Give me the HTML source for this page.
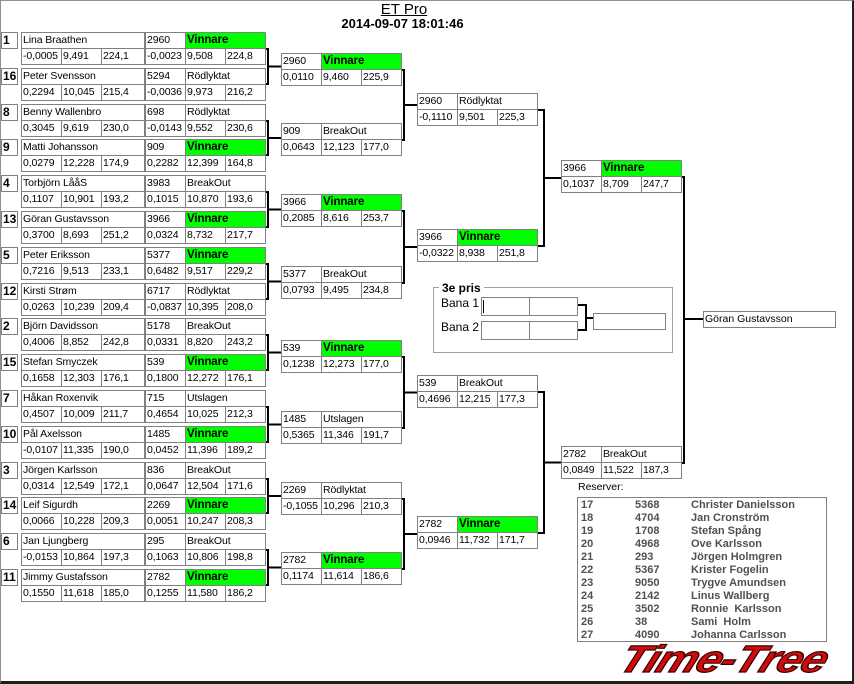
<!DOCTYPE html>
<html><head><meta charset="utf-8"><style>
body{margin:0;width:854px;height:684px;position:relative;background:#fff;overflow:hidden;font-family:"Liberation Sans",Arial,sans-serif}
.frame{position:absolute;left:0;top:0;width:854px;height:684px;box-sizing:border-box;border-top:1px solid #909090;border-left:1px solid #909090;border-right:2px solid #202020;border-bottom:3px solid #202020}
.m{position:absolute;width:121px;height:33px}
.m i{position:absolute;font-style:normal;box-sizing:border-box;height:17px;border:1px solid #808080;background:#fff;font-size:10.5px;letter-spacing:-0.1px;line-height:15px;padding-left:1px;white-space:nowrap;overflow:hidden;color:#000}
.m .n{left:0;top:0;width:41px}
.m .st{left:40px;top:0;width:81px}
.m .a{left:0;top:16px;width:41px}
.m .b{left:40px;top:16px;width:41px}
.m .d{left:80px;top:16px;width:41px}
.m .g{background:#00ff00;font-weight:bold;font-size:11.5px}
.m .nm{left:0;top:0;width:124px}
.pl .d{width:44px}
.sd{position:absolute;left:1px;width:17px;height:17px;box-sizing:border-box;border:1px solid #808080;font-weight:bold;font-size:12px;line-height:15px;padding-left:1px}
svg{position:absolute;left:0;top:0}
.t{position:absolute;font-size:10.5px;white-space:nowrap}
.res{position:absolute;left:577px;top:497px;width:250px;height:145px;box-sizing:border-box;border:1px solid #808080}
.res div{position:absolute;font-size:11px;font-weight:bold;color:#505050;line-height:13px;white-space:nowrap}
</style></head><body>
<div class="frame"></div>
<div class="t" style="left:0;width:808px;top:1px;text-align:center;font-size:15px;text-decoration:underline">ET Pro</div>
<div class="t" style="left:0;width:805px;top:16px;text-align:center;font-size:13px;font-weight:bold">2014-09-07 18:01:46</div>

<svg width="854" height="684" fill="none" stroke="#000" stroke-width="2">
<path d="M265,49H268V84H265M268,66.5H281"/>
<path d="M265,121H268V155H265M268,138H281"/>
<path d="M265,192H268V227H265M268,209.5H281"/>
<path d="M265,264H268V299H265M268,281.5H281"/>
<path d="M265,335H268V370H265M268,352.5H281"/>
<path d="M265,407H268V442H265M268,424.5H281"/>
<path d="M265,479H268V513H265M268,496H281"/>
<path d="M265,550H268V585H265M268,567.5H281"/>
<path d="M401,70H404V140H401M404,105H417"/>
<path d="M401,211H404V283H401M404,247H417"/>
<path d="M401,357H404V428H401M404,392.5H417"/>
<path d="M401,499H404V569H401M404,534H417"/>
<path d="M537,110H544V246H537M544,178H561"/>
<path d="M537,392H544V533H537M544,462.5H561"/>
<path d="M681,177H684V463H681M684,319H703"/>
<path d="M578,305H586V330H578M586,318H593"/>
</svg>

<div class="sd" style="top:32px">1</div><div class="m pl" style="left:21px;top:32px"><i class="nm">Lina Braathen</i><i class="a">-0,0005</i><i class="b">9,491</i><i class="d">224,1</i></div>
<div class="sd" style="top:68px">16</div><div class="m pl" style="left:21px;top:68px"><i class="nm">Peter Svensson</i><i class="a">0,2294</i><i class="b">10,045</i><i class="d">215,4</i></div>
<div class="sd" style="top:104px">8</div><div class="m pl" style="left:21px;top:104px"><i class="nm">Benny Wallenbro</i><i class="a">0,3045</i><i class="b">9,619</i><i class="d">230,0</i></div>
<div class="sd" style="top:139px">9</div><div class="m pl" style="left:21px;top:139px"><i class="nm">Matti Johansson</i><i class="a">0,0279</i><i class="b">12,228</i><i class="d">174,9</i></div>
<div class="sd" style="top:175px">4</div><div class="m pl" style="left:21px;top:175px"><i class="nm">Torbjörn LååS</i><i class="a">0,1107</i><i class="b">10,901</i><i class="d">193,2</i></div>
<div class="sd" style="top:211px">13</div><div class="m pl" style="left:21px;top:211px"><i class="nm">Göran Gustavsson</i><i class="a">0,3700</i><i class="b">8,693</i><i class="d">251,2</i></div>
<div class="sd" style="top:247px">5</div><div class="m pl" style="left:21px;top:247px"><i class="nm">Peter Eriksson</i><i class="a">0,7216</i><i class="b">9,513</i><i class="d">233,1</i></div>
<div class="sd" style="top:283px">12</div><div class="m pl" style="left:21px;top:283px"><i class="nm">Kirsti Strøm</i><i class="a">0,0263</i><i class="b">10,239</i><i class="d">209,4</i></div>
<div class="sd" style="top:318px">2</div><div class="m pl" style="left:21px;top:318px"><i class="nm">Björn Davidsson</i><i class="a">0,4006</i><i class="b">8,852</i><i class="d">242,8</i></div>
<div class="sd" style="top:354px">15</div><div class="m pl" style="left:21px;top:354px"><i class="nm">Stefan Smyczek</i><i class="a">0,1658</i><i class="b">12,303</i><i class="d">176,1</i></div>
<div class="sd" style="top:390px">7</div><div class="m pl" style="left:21px;top:390px"><i class="nm">Håkan Roxenvik</i><i class="a">0,4507</i><i class="b">10,009</i><i class="d">211,7</i></div>
<div class="sd" style="top:426px">10</div><div class="m pl" style="left:21px;top:426px"><i class="nm">Pål Axelsson</i><i class="a">-0,0107</i><i class="b">11,335</i><i class="d">190,0</i></div>
<div class="sd" style="top:462px">3</div><div class="m pl" style="left:21px;top:462px"><i class="nm">Jörgen Karlsson</i><i class="a">0,0314</i><i class="b">12,549</i><i class="d">172,1</i></div>
<div class="sd" style="top:497px">14</div><div class="m pl" style="left:21px;top:497px"><i class="nm">Leif Sigurdh</i><i class="a">0,0066</i><i class="b">10,228</i><i class="d">209,3</i></div>
<div class="sd" style="top:533px">6</div><div class="m pl" style="left:21px;top:533px"><i class="nm">Jan Ljungberg</i><i class="a">-0,0153</i><i class="b">10,864</i><i class="d">197,3</i></div>
<div class="sd" style="top:569px">11</div><div class="m pl" style="left:21px;top:569px"><i class="nm">Jimmy Gustafsson</i><i class="a">0,1550</i><i class="b">11,618</i><i class="d">185,0</i></div>

<div class="m" style="left:145px;top:32px"><i class="n">2960</i><i class="st g">Vinnare</i><i class="a">-0,0023</i><i class="b">9,508</i><i class="d">224,8</i></div>
<div class="m" style="left:145px;top:68px"><i class="n">5294</i><i class="st">Rödlyktat</i><i class="a">-0,0036</i><i class="b">9,973</i><i class="d">216,2</i></div>
<div class="m" style="left:145px;top:104px"><i class="n">698</i><i class="st">Rödlyktat</i><i class="a">-0,0143</i><i class="b">9,552</i><i class="d">230,6</i></div>
<div class="m" style="left:145px;top:139px"><i class="n">909</i><i class="st g">Vinnare</i><i class="a">0,2282</i><i class="b">12,399</i><i class="d">164,8</i></div>
<div class="m" style="left:145px;top:175px"><i class="n">3983</i><i class="st">BreakOut</i><i class="a">0,1015</i><i class="b">10,870</i><i class="d">193,6</i></div>
<div class="m" style="left:145px;top:211px"><i class="n">3966</i><i class="st g">Vinnare</i><i class="a">0,0324</i><i class="b">8,732</i><i class="d">217,7</i></div>
<div class="m" style="left:145px;top:247px"><i class="n">5377</i><i class="st g">Vinnare</i><i class="a">0,6482</i><i class="b">9,517</i><i class="d">229,2</i></div>
<div class="m" style="left:145px;top:283px"><i class="n">6717</i><i class="st">Rödlyktat</i><i class="a">-0,0837</i><i class="b">10,395</i><i class="d">208,0</i></div>
<div class="m" style="left:145px;top:318px"><i class="n">5178</i><i class="st">BreakOut</i><i class="a">0,0331</i><i class="b">8,820</i><i class="d">243,2</i></div>
<div class="m" style="left:145px;top:354px"><i class="n">539</i><i class="st g">Vinnare</i><i class="a">0,1800</i><i class="b">12,272</i><i class="d">176,1</i></div>
<div class="m" style="left:145px;top:390px"><i class="n">715</i><i class="st">Utslagen</i><i class="a">0,4654</i><i class="b">10,025</i><i class="d">212,3</i></div>
<div class="m" style="left:145px;top:426px"><i class="n">1485</i><i class="st g">Vinnare</i><i class="a">0,0452</i><i class="b">11,396</i><i class="d">189,2</i></div>
<div class="m" style="left:145px;top:462px"><i class="n">836</i><i class="st">BreakOut</i><i class="a">0,0647</i><i class="b">12,504</i><i class="d">171,6</i></div>
<div class="m" style="left:145px;top:497px"><i class="n">2269</i><i class="st g">Vinnare</i><i class="a">0,0051</i><i class="b">10,247</i><i class="d">208,3</i></div>
<div class="m" style="left:145px;top:533px"><i class="n">295</i><i class="st">BreakOut</i><i class="a">0,1063</i><i class="b">10,806</i><i class="d">198,8</i></div>
<div class="m" style="left:145px;top:569px"><i class="n">2782</i><i class="st g">Vinnare</i><i class="a">0,1255</i><i class="b">11,580</i><i class="d">186,2</i></div>

<div class="m" style="left:281px;top:53px"><i class="n">2960</i><i class="st g">Vinnare</i><i class="a">0,0110</i><i class="b">9,460</i><i class="d">225,9</i></div>
<div class="m" style="left:281px;top:123px"><i class="n">909</i><i class="st">BreakOut</i><i class="a">0,0643</i><i class="b">12,123</i><i class="d">177,0</i></div>
<div class="m" style="left:281px;top:194px"><i class="n">3966</i><i class="st g">Vinnare</i><i class="a">0,2085</i><i class="b">8,616</i><i class="d">253,7</i></div>
<div class="m" style="left:281px;top:266px"><i class="n">5377</i><i class="st">BreakOut</i><i class="a">0,0793</i><i class="b">9,495</i><i class="d">234,8</i></div>
<div class="m" style="left:281px;top:340px"><i class="n">539</i><i class="st g">Vinnare</i><i class="a">0,1238</i><i class="b">12,273</i><i class="d">177,0</i></div>
<div class="m" style="left:281px;top:411px"><i class="n">1485</i><i class="st">Utslagen</i><i class="a">0,5365</i><i class="b">11,346</i><i class="d">191,7</i></div>
<div class="m" style="left:281px;top:482px"><i class="n">2269</i><i class="st">Rödlyktat</i><i class="a">-0,1055</i><i class="b">10,296</i><i class="d">210,3</i></div>
<div class="m" style="left:281px;top:552px"><i class="n">2782</i><i class="st g">Vinnare</i><i class="a">0,1174</i><i class="b">11,614</i><i class="d">186,6</i></div>

<div class="m" style="left:417px;top:93px"><i class="n">2960</i><i class="st">Rödlyktat</i><i class="a">-0,1110</i><i class="b">9,501</i><i class="d">225,3</i></div>
<div class="m" style="left:417px;top:229px"><i class="n">3966</i><i class="st g">Vinnare</i><i class="a">-0,0322</i><i class="b">8,938</i><i class="d">251,8</i></div>
<div class="m" style="left:417px;top:375px"><i class="n">539</i><i class="st">BreakOut</i><i class="a">0,4696</i><i class="b">12,215</i><i class="d">177,3</i></div>
<div class="m" style="left:417px;top:516px"><i class="n">2782</i><i class="st g">Vinnare</i><i class="a">0,0946</i><i class="b">11,732</i><i class="d">171,7</i></div>

<div class="m" style="left:561px;top:160px"><i class="n">3966</i><i class="st g">Vinnare</i><i class="a">0,1037</i><i class="b">8,709</i><i class="d">247,7</i></div>
<div class="m" style="left:561px;top:446px"><i class="n">2782</i><i class="st">BreakOut</i><i class="a">0,0849</i><i class="b">11,522</i><i class="d">187,3</i></div>

<div class="t" style="left:703px;top:311px;width:133px;height:17px;box-sizing:border-box;border:1px solid #808080;line-height:15px;padding-left:1px">Göran Gustavsson</div>

<div style="position:absolute;left:433px;top:287px;width:240px;height:66px;box-sizing:border-box;border:1px solid #a0a0a0"></div>
<div class="t" style="left:439px;top:281px;background:#fff;padding:0 3px;font-weight:bold;font-size:12px">3e pris</div>
<div class="t" style="left:441px;top:296px;font-size:12px">Bana 1</div>
<div class="t" style="left:441px;top:320px;font-size:12px">Bana 2</div>
<div style="position:absolute;left:481px;top:297px;width:49px;height:19px;box-sizing:border-box;border:1px solid #808080"></div>
<div style="position:absolute;left:529px;top:297px;width:49px;height:19px;box-sizing:border-box;border:1px solid #808080"></div>
<div style="position:absolute;left:483px;top:300px;width:1px;height:13px;background:#000"></div>
<div style="position:absolute;left:481px;top:321px;width:49px;height:19px;box-sizing:border-box;border:1px solid #808080"></div>
<div style="position:absolute;left:529px;top:321px;width:49px;height:19px;box-sizing:border-box;border:1px solid #808080"></div>
<div style="position:absolute;left:593px;top:313px;width:73px;height:17px;box-sizing:border-box;border:1px solid #808080"></div>

<div class="t" style="left:578px;top:481px">Reserver:</div>
<div class="res">
<div style="left:3px;top:1px">17<br>18<br>19<br>20<br>21<br>22<br>23<br>24<br>25<br>26<br>27</div>
<div style="left:57px;top:1px">5368<br>4704<br>1708<br>4968<br>293<br>5367<br>9050<br>2142<br>3502<br>38<br>4090</div>
<div style="left:113px;top:1px">Christer Danielsson<br>Jan Cronström<br>Stefan Spång<br>Ove Karlsson<br>Jörgen Holmgren<br>Krister Fogelin<br>Trygve Amundsen<br>Linus Wallberg<br>Ronnie&nbsp; Karlsson<br>Sami&nbsp; Holm<br>Johanna Carlsson</div>
</div>

<div class="t" style="left:613px;top:640px;font-size:38px;font-weight:900;font-style:italic;color:#d40a0a;letter-spacing:-1px;transform:skewX(-22deg) scaleX(1.2);transform-origin:left bottom;-webkit-text-stroke:1.2px #300;line-height:40px">Time-Tree</div>
</body></html>
